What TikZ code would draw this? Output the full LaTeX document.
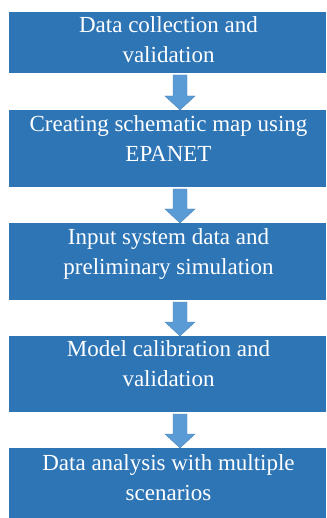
\documentclass[tikz,border=0pt]{standalone}
\usepackage{fontspec}
\setmainfont{Liberation Serif}
\usetikzlibrary{calc}
\definecolor{boxblue}{HTML}{2E75B6}
\definecolor{arrblue}{HTML}{5B9BD5}
\tikzset{
  stepbox/.style={rectangle, fill=boxblue, draw=none, minimum width=317pt, inner sep=0pt, outer sep=0pt, anchor=north west},
  steptext/.style={text=white, font=\fontsize{23}{30}\selectfont, align=center, anchor=base, inner sep=0pt},
  flowarrow/.style={fill=arrblue, draw=arrblue!85!black, line width=0.4pt},
}
\newcommand{\flowarr}[2]{%
  \filldraw[flowarrow] ($(#1.south)+(5.5,2)$) -- ($(#2.north)+(5.5,-14)$) -- ($(#2.north)+(-2.5,-14)$)
    -- ($(#2.north)+(12.5,0)$) -- ($(#2.north)+(27.5,-14)$) -- ($(#2.north)+(19.5,-14)$)
    -- ($(#1.south)+(19.5,2)$) -- cycle;}
\begin{document}
\begin{tikzpicture}[x=1pt,y=-1pt]
  \useasboundingbox (0,0) rectangle (326,518);
  \node[stepbox, minimum height=61pt] (b1) at (9,12) {};
  \node[stepbox, minimum height=77pt] (b2) at (9,110) {};
  \node[stepbox, minimum height=77pt] (b3) at (9,223) {};
  \node[stepbox, minimum height=76pt] (b4) at (9,336) {};
  \node[stepbox, minimum height=70pt] (b5) at (9,448) {};
  \node[steptext] (t1) at (168.5,63) {Data collection and\\validation};
  \node[steptext] (t2) at (168.5,161.7) {Creating schematic map using\\EPANET};
  \node[steptext] (t3) at (168.5,274.5) {Input system data and\\preliminary simulation};
  \node[steptext] (t4) at (168.5,386.7) {Model calibration and\\validation};
  \node[steptext] (t5) at (168.5,500) {Data analysis with multiple\\scenarios};
  \flowarr{b1}{b2}
  \flowarr{b2}{b3}
  \flowarr{b3}{b4}
  \flowarr{b4}{b5}
\end{tikzpicture}
\end{document}
